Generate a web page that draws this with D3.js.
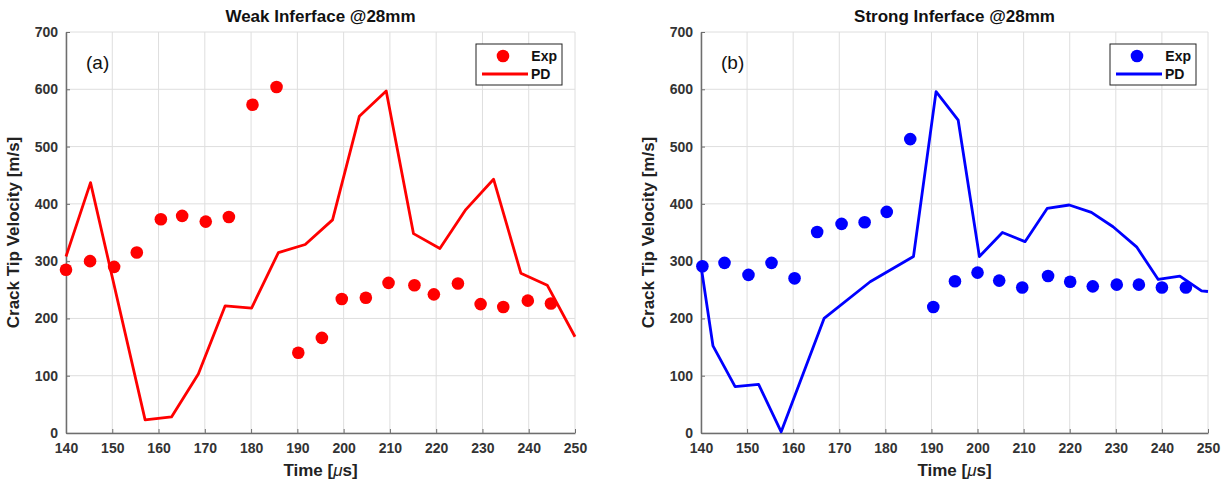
<!DOCTYPE html>
<html>
<head>
<meta charset="utf-8">
<script src="https://cdn.jsdelivr.net/npm/d3@7"></script>
<style>
  body { margin: 0; background: #fff; }
  svg text { font-family: "Liberation Sans", Arial, Helvetica, sans-serif; }
</style>
</head>
<body>
<div id="chart"></div>
<script>
// crack tip velocity, weak vs strong interface

//////////
// data //
//////////

var timeTicks = [140, 150, 160, 170, 180, 190, 200, 210, 220, 230, 240, 250];
var velTicks = [0, 100, 200, 300, 400, 500, 600, 700];

// (a) weak interface
var weakExpTime = [140, 145.2, 150.4, 155.3, 160.5, 165.1, 170.2, 175.2, 180.3, 185.5, 190.2, 195.3, 199.6, 204.8, 209.7, 215.3, 219.5, 224.7, 229.6, 234.5, 239.8, 244.8];
var weakExpVel = [285, 300, 290, 315, 373, 379, 369, 377, 573, 604, 140, 166, 234, 236, 262, 258, 242, 261, 225, 220, 231, 226];
var weakPdTime = [140, 145.3, 157.1, 162.8, 168.6, 174.4, 180.1, 185.9, 191.7, 197.6, 203.4, 209.2, 215.1, 220.8, 226.4, 232.4, 238.3, 244, 250];
var weakPdVel = [308, 437, 23, 28, 103, 222, 218, 315, 329, 372, 553, 597, 348, 322, 390, 443, 279, 258, 168];

// (b) strong interface
var strongExpTime = [140.3, 145.1, 150.3, 155.3, 160.3, 165.2, 170.5, 175.5, 180.3, 185.4, 190.4, 195.1, 200, 204.7, 209.7, 215.3, 220.1, 225, 230.2, 235, 240, 245.2];
var strongExpVel = [291, 297, 276, 297, 270, 351, 365, 368, 386, 513, 220, 265, 280, 266, 254, 274, 264, 256, 259, 259, 254, 254];
var strongPdTime = [140, 142.6, 147.4, 152.5, 157.4, 166.7, 176.7, 186.1, 191, 195.8, 200.4, 205.4, 210.3, 215.1, 219.9, 224.7, 229.4, 234.5, 239.2, 243.9, 248.6, 250];
var strongPdVel = [292, 152, 81, 85, 2, 200, 264, 308, 596, 546, 308, 350, 334, 392, 398, 385, 360, 325, 268, 274, 248, 247];

var legendNames = ["Exp", "PD"];

///////////////
// constants //
///////////////

const chartWidth = 1229;
const chartHeight = 484;

const plotTop = 32;
const plotBottom = 433;

var svg = d3.select("#chart").append("svg")
    .attr("width", chartWidth)
    .attr("height", chartHeight);

////////////////
// draw image //
////////////////

drawPanel({
  left: 66, right: 575,
  title: "Weak Inferface @28mm", tag: "(a)", color: "#ff0000",
  expTime: weakExpTime, expVel: weakExpVel,
  pdTime: weakPdTime, pdVel: weakPdVel,
  legendX: 476
});

drawPanel({
  left: 701, right: 1208,
  title: "Strong Inferface @28mm", tag: "(b)", color: "#0000ff",
  expTime: strongExpTime, expVel: strongExpVel,
  pdTime: strongPdTime, pdVel: strongPdVel,
  legendX: 1110
});

///////////////
// functions //
///////////////

function drawPanel(p) {
  var x = d3.scaleLinear().domain([140, 250]).range([p.left, p.right]);
  var y = d3.scaleLinear().domain([0, 700]).range([plotBottom, plotTop]);

  var g = svg.append("g");

  // grid
  g.selectAll(".vgrid").data(timeTicks).enter().append("line")
      .attr("x1", d => x(d)).attr("x2", d => x(d))
      .attr("y1", plotTop).attr("y2", plotBottom)
      .attr("stroke", "#dedede").attr("stroke-width", 1);
  g.selectAll(".hgrid").data(velTicks).enter().append("line")
      .attr("x1", p.left).attr("x2", p.right)
      .attr("y1", d => y(d)).attr("y2", d => y(d))
      .attr("stroke", "#dedede").attr("stroke-width", 1);

  // axes
  var xAxis = g.append("g")
      .attr("transform", "translate(0," + plotBottom + ")")
      .call(d3.axisBottom(x).tickValues(timeTicks).tickSize(-4).tickPadding(10).tickSizeOuter(0));
  var yAxis = g.append("g")
      .attr("transform", "translate(" + p.left + ",0)")
      .call(d3.axisLeft(y).tickValues(velTicks).tickSize(-4).tickPadding(8).tickSizeOuter(0));

  [xAxis, yAxis].forEach(function(a) {
    a.select(".domain").attr("stroke", "#6e6e6e").attr("stroke-width", 1.5);
    a.selectAll(".tick line").attr("stroke", "#6e6e6e");
    a.selectAll(".tick text")
        .attr("fill", "#333")
        .style("font-size", "14px")
        .style("font-weight", "bold")
        .style("font-family", "'Liberation Sans', Arial, sans-serif");
  });

  // PD line
  var pdPoints = p.pdTime.map((t, i) => [t, p.pdVel[i]]);
  g.append("path")
      .datum(pdPoints)
      .attr("d", d3.line().x(d => x(d[0])).y(d => y(d[1])))
      .attr("fill", "none")
      .attr("stroke", p.color)
      .attr("stroke-width", 2.8)
      .attr("stroke-linejoin", "round");

  // Exp points
  var expPoints = p.expTime.map((t, i) => [t, p.expVel[i]]);
  g.selectAll(".exp").data(expPoints).enter().append("circle")
      .attr("cx", d => x(d[0]))
      .attr("cy", d => y(d[1]))
      .attr("r", 6.3)
      .attr("fill", p.color);

  // title and labels
  var mid = (p.left + p.right) / 2;
  g.append("text")
      .attr("x", mid).attr("y", 22)
      .attr("text-anchor", "middle")
      .style("font-size", "17px").style("font-weight", "bold")
      .attr("fill", "#111")
      .text(p.title);

  var xl = g.append("text")
      .attr("x", mid).attr("y", 476)
      .attr("text-anchor", "middle")
      .style("font-size", "17px").style("font-weight", "bold")
      .attr("fill", "#222");
  xl.append("tspan").text("Time [");
  xl.append("tspan").style("font-style", "italic").style("font-weight", "normal").text("\u03bc");
  xl.append("tspan").text("s]");

  g.append("text")
      .attr("transform", "translate(" + (p.left - 47) + "," + ((plotTop + plotBottom) / 2) + ") rotate(-90)")
      .attr("text-anchor", "middle")
      .style("font-size", "17px").style("font-weight", "bold")
      .attr("fill", "#222")
      .text("Crack Tip Velocity [m/s]");

  g.append("text")
      .attr("x", p.left + 20).attr("y", 69)
      .style("font-size", "19px")
      .attr("fill", "#111")
      .text(p.tag);

  drawLegend(g, p.legendX, 44, p.color);
}

function drawLegend(g, lx, ly, color) {
  g.append("rect")
      .attr("x", lx).attr("y", ly)
      .attr("width", 86).attr("height", 41)
      .attr("fill", "#fff")
      .attr("stroke", "#222")
      .attr("stroke-width", 1);

  g.append("circle")
      .attr("cx", lx + 27).attr("cy", ly + 12)
      .attr("r", 6.3)
      .attr("fill", color);

  g.append("line")
      .attr("x1", lx + 6).attr("x2", lx + 52)
      .attr("y1", ly + 30).attr("y2", ly + 30)
      .attr("stroke", color)
      .attr("stroke-width", 2.8);

  g.selectAll(".legtext").data(legendNames).enter().append("text")
      .attr("x", (d, i) => i === 0 ? lx + 81 : lx + 55)
      .attr("y", (d, i) => ly + 17 + i * 18)
      .attr("text-anchor", (d, i) => i === 0 ? "end" : "start")
      .style("font-size", "14px").style("font-weight", "bold")
      .attr("fill", "#111")
      .text(d => d);
}
</script>
</body>
</html>
